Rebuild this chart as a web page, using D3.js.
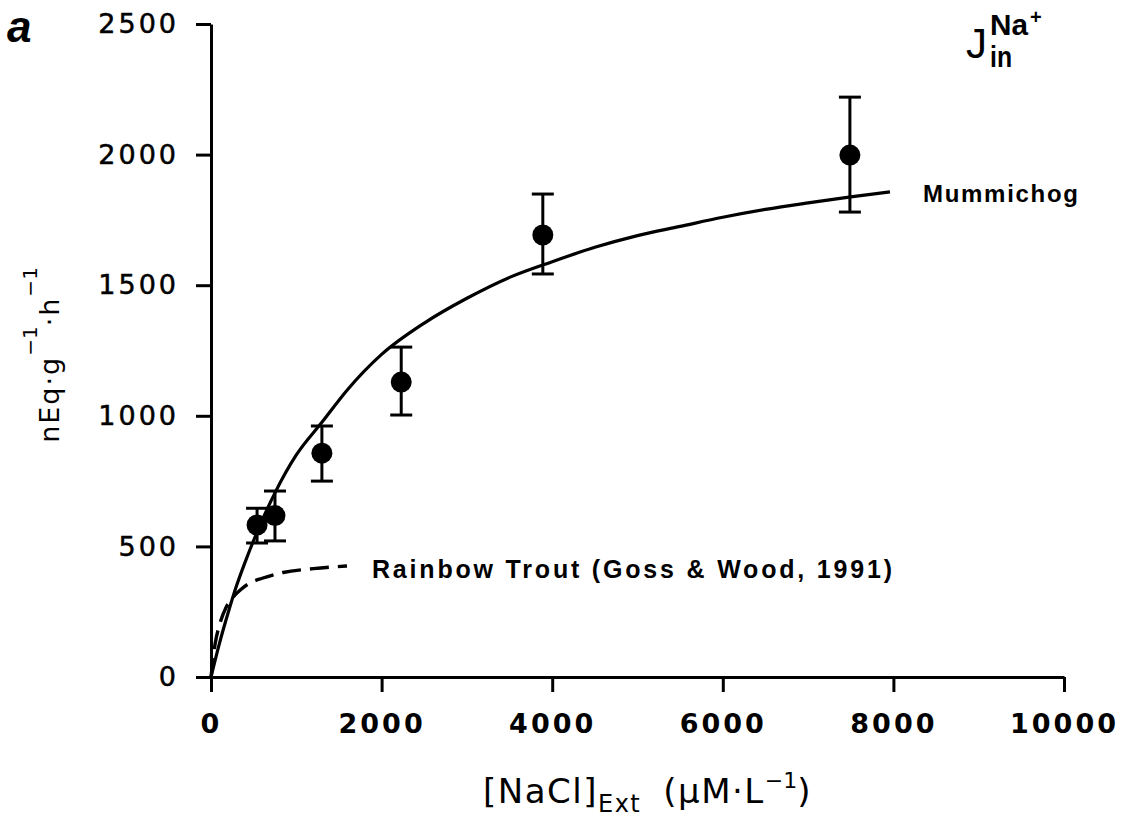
<!DOCTYPE html>
<html><head><meta charset="utf-8">
<script src="https://cdn.jsdelivr.net/npm/d3@7"></script>
<style>
body{margin:0;background:#fff}
svg{display:block}
.tick text{font-family:"DejaVu Sans",sans-serif;font-size:27px;fill:#000;letter-spacing:3px}
</style>
</head><body>
<svg id="chart" width="1127" height="820"></svg>
<script>
// Na+ influx measurements (mean with error bar limits)
const naclExt   = [540, 750, 1300, 2230, 3890, 7490];
const influx    = [582, 618, 857, 1129, 1692, 1998];
const influxLow = [513, 521, 750, 1003, 1543, 1780];
const influxHigh= [646, 712, 961, 1263, 1849, 2220];

// fitted uptake curve, mummichog
const mummichogConc = [0, 100, 200, 300, 400, 540, 750, 1000, 1300, 1600, 2000, 2500, 3000, 3500, 4000, 4500, 5000, 5500, 6000, 6500, 7000, 7500, 7960];
const mummichogFlux = [0, 130, 245, 350, 440, 555, 705, 850, 975, 1100, 1235, 1355, 1450, 1530, 1590, 1645, 1690, 1725, 1760, 1790, 1815, 1838, 1857];

// rainbow trout curve (Goss & Wood, 1991)
const troutConc = [0, 50, 100, 175, 250, 350, 457, 600, 845, 1200, 1594];
const troutFlux = [0, 130, 200, 265, 302, 335, 360, 378, 400, 415, 425];

const xTicks = [0, 2000, 4000, 6000, 8000, 10000];
const yTicks = [0, 500, 1000, 1500, 2000, 2500];

const svg = d3.select("#chart");
const x = d3.scaleLinear().domain([0, 10000]).range([211, 1064]);
const y = d3.scaleLinear().domain([0, 2500]).range([677, 24]);

// axes
const gx = svg.append("g").attr("transform", `translate(0,${y(0)})`)
  .call(d3.axisBottom(x).tickValues(xTicks).tickSize(15).tickSizeOuter(0).tickPadding(22).tickFormat(d3.format("d")));
const gy = svg.append("g").attr("transform", `translate(${x(0)},0)`)
  .call(d3.axisLeft(y).tickValues(yTicks).tickSize(15).tickSizeOuter(0).tickPadding(17).tickFormat(d3.format("d")));
[gx, gy].forEach(g => {
  g.select(".domain").attr("stroke", "#000").attr("stroke-width", 3);
  g.selectAll(".tick line").attr("stroke", "#000").attr("stroke-width", 3);
});
gx.selectAll(".tick text").attr("font-weight", "bold");
gy.selectAll(".tick text").attr("stroke", "#000").attr("stroke-width", 0.5);

// curves
const line = d3.line().x(d => x(d[0])).y(d => y(d[1])).curve(d3.curveMonotoneX);
svg.append("path")
  .attr("d", line(mummichogConc.map((c, i) => [c, mummichogFlux[i]])))
  .attr("fill", "none").attr("stroke", "#000").attr("stroke-width", 3.2);
svg.append("path")
  .attr("d", line(troutConc.map((c, i) => [c, troutFlux[i]])))
  .attr("fill", "none").attr("stroke", "#000").attr("stroke-width", 3.4)
  .attr("stroke-dasharray", "19,9");

// error bars and points
const pts = naclExt.map((c, i) => ({c, m: influx[i], lo: influxLow[i], hi: influxHigh[i]}));
const eb = svg.append("g").attr("stroke", "#000").attr("stroke-width", 3);
pts.forEach(p => {
  eb.append("line").attr("x1", x(p.c)).attr("x2", x(p.c)).attr("y1", y(p.lo)).attr("y2", y(p.hi));
  eb.append("line").attr("x1", x(p.c) - 11).attr("x2", x(p.c) + 11).attr("y1", y(p.lo)).attr("y2", y(p.lo));
  eb.append("line").attr("x1", x(p.c) - 11).attr("x2", x(p.c) + 11).attr("y1", y(p.hi)).attr("y2", y(p.hi));
});
svg.append("g").selectAll("circle").data(pts).join("circle")
  .attr("cx", d => x(d.c)).attr("cy", d => y(d.m)).attr("r", 10.5).attr("fill", "#000");

// panel letter
svg.append("text").attr("x", 7).attr("y", 42)
  .attr("font-family", "Liberation Sans, Arial, sans-serif").attr("font-size", 44)
  .attr("font-style", "italic").attr("font-weight", "bold").text("a");

// flux symbol
const sym = svg.append("g").attr("font-family", "Liberation Sans, Arial, sans-serif");
sym.append("text").attr("x", 966).attr("y", 58).attr("font-size", 42).text("J");
sym.append("text").attr("x", 990).attr("y", 35).attr("font-size", 30).attr("font-weight", "bold")
  .attr("textLength", 38).attr("lengthAdjust", "spacingAndGlyphs").text("Na");
sym.append("text").attr("x", 1030).attr("y", 24).attr("font-size", 20).attr("font-weight", "bold").text("+");
sym.append("text").attr("x", 990).attr("y", 67).attr("font-size", 30).attr("font-weight", "bold")
  .attr("textLength", 22).attr("lengthAdjust", "spacingAndGlyphs").text("in");

// curve labels
svg.append("text").attr("x", 923).attr("y", 202)
  .attr("font-family", "Liberation Sans, Arial, sans-serif").attr("font-size", 24).attr("font-weight", "bold")
  .attr("textLength", 155).attr("lengthAdjust", "spacing").text("Mummichog");
svg.append("text").attr("x", 372).attr("y", 578)
  .attr("font-family", "Liberation Sans, Arial, sans-serif").attr("font-size", 25).attr("font-weight", "bold")
  .attr("textLength", 520).attr("lengthAdjust", "spacing").text("Rainbow Trout (Goss & Wood, 1991)");

// y-axis title
const yt = svg.append("text")
  .attr("transform", "translate(59,355) rotate(-90)")
  .attr("text-anchor", "middle")
  .attr("font-family", "DejaVu Sans, sans-serif").attr("font-size", 27).attr("letter-spacing", 2);
yt.append("tspan").text("nEq·g");
yt.append("tspan").attr("dy", -22).attr("font-size", 20).attr("letter-spacing", 0).text("−1");
yt.append("tspan").attr("dy", 22).text("·h");
yt.append("tspan").attr("dy", -22).attr("font-size", 20).attr("letter-spacing", 0).text("−1");

// x-axis title
const xt = svg.append("text").attr("x", 483).attr("y", 803)
  .attr("font-family", "DejaVu Sans, sans-serif").attr("font-size", 34).attr("letter-spacing", 1.5);
xt.append("tspan").text("[NaCl]");
xt.append("tspan").attr("dy", 9).attr("font-size", 24).text("Ext");
xt.append("tspan").attr("dy", -9).attr("dx", 22).text("(μM·L");
xt.append("tspan").attr("dy", -15).attr("font-size", 22).attr("letter-spacing", 0).text("−1");
xt.append("tspan").attr("dy", 15).text(")");
</script>
</body></html>
